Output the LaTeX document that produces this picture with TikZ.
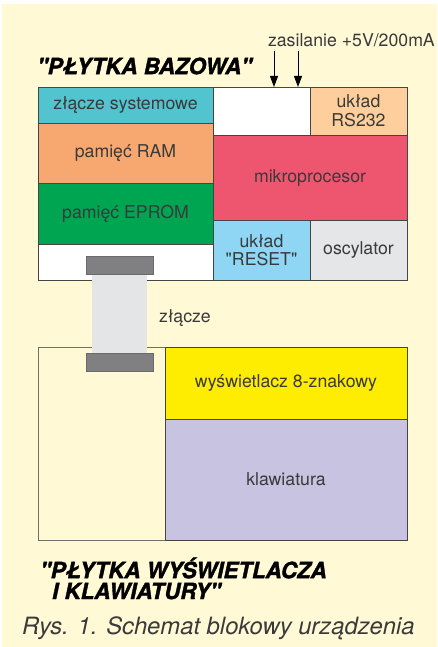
\documentclass[tikz,border=0pt]{standalone}
\usepackage{fontspec}
\setmainfont{TeX Gyre Heros}[Ligatures=TeXOff]
\newfontfamily\titlefam{texgyreheros-bolditalic.otf}[FakeBold=1.6, Ligatures=TeXOff]
\usetikzlibrary{arrows.meta}
\definecolor{cream}{HTML}{FFF9D6}
\definecolor{bordc}{HTML}{454545}
\definecolor{txtc}{HTML}{3A3A3A}
\definecolor{cyanc}{HTML}{52C4D0}
\definecolor{ramc}{HTML}{F7A870}
\definecolor{epromc}{HTML}{00A551}
\definecolor{mpc}{HTML}{EE5670}
\definecolor{rsc}{HTML}{FECF9C}
\definecolor{resetc}{HTML}{8ED6F4}
\definecolor{oscc}{HTML}{E5E6E8}
\definecolor{lcdc}{HTML}{FFED00}
\definecolor{kbdc}{HTML}{C7C3E0}
\definecolor{darkconn}{HTML}{808083}
\definecolor{lightconn}{HTML}{E4E5E7}
\definecolor{dispborder}{HTML}{707066}
\newcommand\lblfont{\fontsize{17.7}{20}\selectfont}
\newcommand\titlefont{\fontsize{22.3}{22.5}\selectfont\titlefam}
\tikzset{
  blk/.style={draw=bordc, line width=0.9pt, inner sep=0pt, outer sep=0pt,
    anchor=north west, text=txtc, font=\lblfont, align=center},
  conn/.style={draw=bordc!80, line width=0.8pt, fill=darkconn, inner sep=0pt,
    outer sep=0pt, anchor=north west, minimum width=67pt, minimum height=18pt},
  titl/.style={anchor=west, inner sep=0pt, text=black, font=\titlefont, align=left},
  pwr/.style={line width=0.9pt, draw=black, -{Triangle[width=8pt,length=11pt]}}
}
\begin{document}
\begin{tikzpicture}[x=1pt,y=-1pt]
\useasboundingbox (0,0) rectangle (437,647);
\fill[white] (0,0) rectangle (437,647);
\fill[cream] (2,4) rectangle (437,647);

% base board
\node[blk, fill=white, minimum width=369pt, minimum height=193pt] (base) at (38,87) {};
\node[blk, fill=cyanc, minimum width=175pt, minimum height=36pt] (zs) at (38,87) {złącze systemowe};
\node[blk, fill=white, minimum width=97pt, minimum height=48pt] (wtop) at (213,87) {};
\node[blk, fill=rsc, minimum width=97pt, minimum height=48pt] (rs) at (310,87) {układ\\[-1pt]RS232};
\node[blk, fill=ramc, minimum width=175pt, minimum height=60pt] (ram) at (38,123) {pamięć RAM};
\node[blk, fill=mpc, minimum width=194pt, minimum height=85pt] (mp) at (213,135) {mikroprocesor};
\node[blk, fill=epromc, minimum width=175pt, minimum height=61pt] (eprom) at (38,183) {pamięć EPROM};
\node[blk, fill=white, minimum width=175pt, minimum height=36pt] (wbot) at (38,244) {};
\node[blk, fill=resetc, minimum width=97pt, minimum height=60pt] (reset) at (213,220) {układ\\[-2pt]"RESET"};
\node[blk, fill=oscc, minimum width=97pt, minimum height=60pt] (osc) at (310,220) {oscylator};

% display board
\node[blk, draw=dispborder, fill=cream, minimum width=369pt, minimum height=193pt] (disp) at (38,347) {};
\node[blk, fill=lcdc, minimum width=242pt, minimum height=72pt] (lcd) at (165,347) {wyświetlacz 8-znakowy};
\node[blk, fill=kbdc, minimum width=242pt, minimum height=121pt] (kbd) at (165,419) {klawiatura};

% connector
\node[inner sep=0pt, outer sep=0pt, anchor=north west, fill=lightconn,
  minimum width=55pt, minimum height=86pt] (cable) at (92,271) {};
\node[conn] (ctop) at (86,256) {};
\node[conn] (cbot) at (86,353) {};
\node[font=\lblfont, text=txtc, anchor=west, inner sep=0pt] (zl) at (159,318) {złącze};

% titles
\node[titl] (t1) at (37,66) {"PŁYTKA BAZOWA"};
\node[titl] (t2) at (40,568) {"PŁYTKA WYŚWIETLACZA};
\node[titl] (t3) at (52,591) {I KLAWIATURY"};
\node[font=\fontsize{23.8}{26}\selectfont\itshape, text=txtc, anchor=west, inner sep=0pt] (cap) at (22,628) {Rys. 1. Schemat blokowy urządzenia};

% power
\node[font=\lblfont, text=txtc, anchor=east, inner sep=0pt] (pw) at (435,40) {zasilanie +5V/200mA};
\coordinate (p1) at (274,51);
\coordinate (p2) at (298,51);
\draw[pwr] (p1) -- (p1 |- base.north);
\draw[pwr] (p2) -- (p2 |- base.north);
\end{tikzpicture}
\end{document}
